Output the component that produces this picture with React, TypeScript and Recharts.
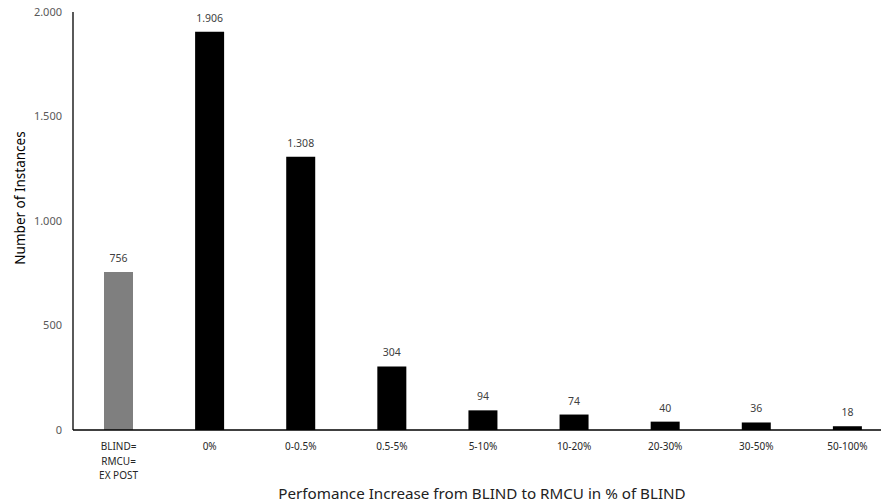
import React from "react";
import { BarChart, Bar, XAxis, YAxis, Cell, LabelList } from "recharts";

const categories = [
  "BLIND=\nRMCU=\nEX POST",
  "0%",
  "0-0.5%",
  "0.5-5%",
  "5-10%",
  "10-20%",
  "20-30%",
  "30-50%",
  "50-100%",
];
const instances = [756, 1906, 1308, 304, 94, 74, 40, 36, 18];
const barColors = ["#7f7f7f", "#000000", "#000000", "#000000", "#000000", "#000000", "#000000", "#000000", "#000000"];
const yTicks = [0, 500, 1000, 1500, 2000];

const data = categories.map((c, i) => ({ category: c, value: instances[i] }));

const fmt = (v: number) => v.toString().replace(/\B(?=(\d{3})+(?!\d))/g, ".");

const FONT = "'Noto Sans', sans-serif";

const CategoryTick = (props: any) => {
  const { x, payload } = props;
  const lines = String(payload.value).split("\n");
  return (
    <g>
      {lines.map((l: string, i: number) => (
        <text
          key={i}
          x={x}
          y={450 + i * 14.5}
          textAnchor="middle"
          fontFamily={FONT}
          fontSize={10}
          fill="#262626"
        >
          {l}
        </text>
      ))}
    </g>
  );
};

export default function App() {
  return (
    <div style={{ position: "absolute", left: 0, top: 0, width: 881, height: 503, overflow: "hidden", background: "#fff" }}>
      <BarChart
        width={893}
        height={503}
        data={data}
        margin={{ top: 12, right: 0, left: 0, bottom: 0 }}
        barCategoryGap={0}
      >
        <XAxis
          dataKey="category"
          height={73}
          axisLine={{ stroke: "#000", strokeWidth: 1.3 }}
          tickLine={false}
          interval={0}
          tick={<CategoryTick />}
        />
        <YAxis
          width={73}
          domain={[0, 2000]}
          ticks={yTicks}
          tickFormatter={fmt}
          axisLine={{ stroke: "#000", strokeWidth: 1.3 }}
          tickLine={false}
          tickSize={6}
          tickMargin={5}
          tick={{ fontFamily: FONT, fontSize: 11, fill: "#595959" }}
        />
        <Bar dataKey="value" barSize={29} isAnimationActive={false}>
          {data.map((d, i) => (
            <Cell key={i} fill={barColors[i]} />
          ))}
          <LabelList
            dataKey="value"
            position="top"
            offset={10}
            formatter={(v: any) => fmt(Number(v))}
            style={{ fontFamily: FONT, fontSize: 10.5, fill: "#404040" }}
          />
        </Bar>
        <text
          x={20}
          y={198}
          transform="rotate(-90 20 198)"
          textAnchor="middle"
          dominantBaseline="central"
          fontFamily={FONT}
          fontSize={13.5}
          fill="#000"
        >
          Number of Instances
        </text>
        <text x={482} y={499} textAnchor="middle" fontFamily={FONT} fontSize={15.2} fill="#222">
          Perfomance Increase from BLIND to RMCU in % of BLIND
        </text>
      </BarChart>
    </div>
  );
}
